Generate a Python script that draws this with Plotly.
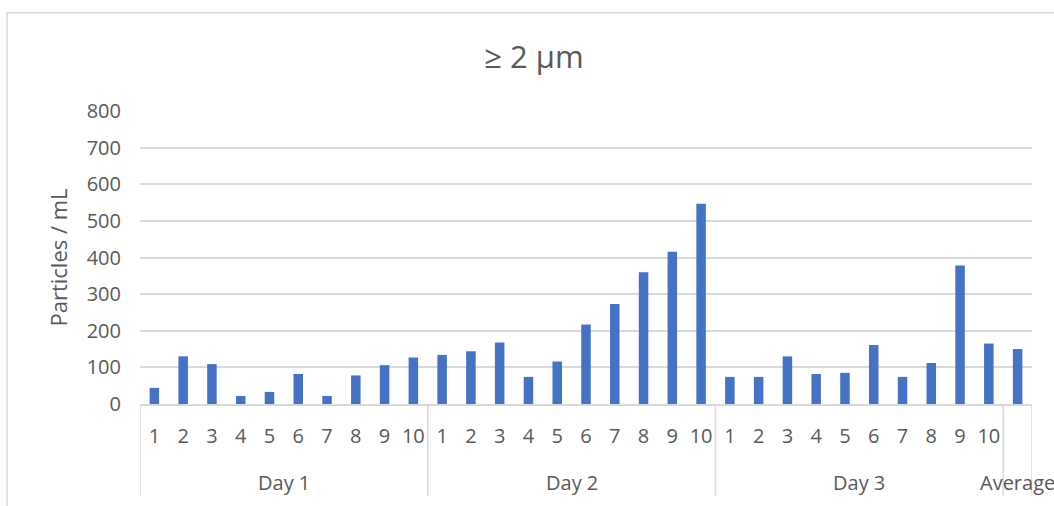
import plotly.graph_objects as go

# Particle counts (≥ 2 µm) per sample, grouped by day, plus the overall average
days = ["Day 1", "Day 2", "Day 3"]
samples = [str(i) for i in range(1, 11)]
day1 = [44, 130, 109, 22, 33, 82, 22, 78, 106, 127]
day2 = [134, 144, 168, 74, 116, 217, 273, 360, 416, 547]
day3 = [74, 74, 130, 82, 85, 161, 74, 112, 378, 165]
average_label = "Average"
average_value = 150

y_ticks = [0, 100, 200, 300, 400, 500, 600, 700, 800]

# Flatten into one category sequence: 10 samples per day, then the average
groups = []  # (label, first index, count)
inner = []
values = []
for day, vals in zip(days, [day1, day2, day3]):
    groups.append((day, len(values), len(vals)))
    inner.extend(samples)
    values.extend(vals)
groups.append((average_label, len(values), 1))
inner.append("")
values.append(average_value)
positions = list(range(len(values)))

TEXT = "#595959"
GRID = "#d9d9d9"
FONT = "Open Sans, Segoe UI, sans-serif"

# plot-area geometry in pixels (used to express paper coordinates)
PLOT_L, PLOT_R, PLOT_T, PLOT_B = 140, 1032, 110.5, 404.5
PLOT_H = PLOT_B - PLOT_T
PLOT_W = PLOT_R - PLOT_L


def py(px):
    return (PLOT_B - px) / PLOT_H


def pxx(px):
    return (px - PLOT_L) / PLOT_W


fig = go.Figure(
    go.Bar(
        x=positions,
        y=values,
        marker=dict(color="#4472C4", line=dict(width=0)),
        width=0.33,
    )
)

shapes = [
    # chart-area frame
    dict(
        type="rect", xref="paper", yref="paper",
        x0=pxx(7), x1=pxx(1070), y0=py(520), y1=py(12),
        line=dict(color=GRID, width=1.5), fillcolor="rgba(0,0,0,0)", layer="below",
    )
]
annotations = []
divider_y1 = py(497)
for label, start, count in groups:
    left = start - 0.5
    shapes.append(dict(
        type="line", xref="x", yref="paper", x0=left, x1=left, y0=0, y1=divider_y1,
        line=dict(color=GRID, width=1.5),
    ))
    annotations.append(dict(
        text=label, xref="x", yref="paper", x=start + (count - 1) / 2, y=py(483),
        yanchor="middle", xanchor="center", showarrow=False,
        font=dict(size=20, color=TEXT, family=FONT),
    ))
last = groups[-1][1] + groups[-1][2] - 0.5
shapes.append(dict(
    type="line", xref="x", yref="paper", x0=last, x1=last, y0=0, y1=divider_y1,
    line=dict(color=GRID, width=1.5),
))

fig.update_layout(
    width=1054,
    height=506,
    margin=dict(l=PLOT_L, r=1054 - PLOT_R, t=PLOT_T, b=506 - PLOT_B, autoexpand=False),
    paper_bgcolor="white",
    plot_bgcolor="white",
    font=dict(family=FONT, color=TEXT),
    showlegend=False,
    title=dict(
        text="≥ 2 µm",
        font=dict(size=31, color=TEXT, family=FONT),
        x=pxx(534), xref="paper", xanchor="center",
        y=1 - 57 / 506, yref="container", yanchor="middle",
    ),
    shapes=shapes,
    annotations=annotations,
)

fig.update_xaxes(
    range=[-0.5, len(values) - 0.5],
    tickvals=positions,
    ticktext=inner,
    showline=True,
    linecolor=GRID,
    linewidth=1.5,
    showgrid=False,
    zeroline=False,
    ticks="",
    tickangle=0,
    ticklabelstandoff=13,
    tickfont=dict(size=20, color=TEXT, family=FONT),
    automargin=False,
)

fig.update_yaxes(
    range=[0, 800],
    tickvals=y_ticks,
    showgrid=True,
    gridcolor=GRID,
    gridwidth=1.6,
    zeroline=False,
    showline=False,
    ticks="",
    ticklabelstandoff=18,
    tickfont=dict(size=20, color=TEXT, family=FONT),
    title=dict(text="Particles / mL", font=dict(size=22, color=TEXT, family=FONT), standoff=12),
    automargin=False,
)

fig.write_html("out.html")
